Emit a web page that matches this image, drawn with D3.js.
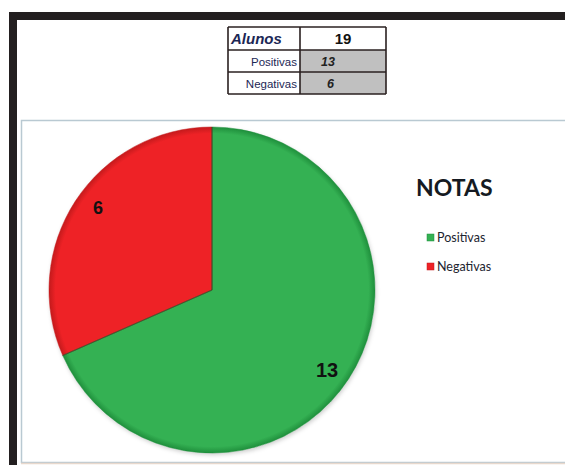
<!DOCTYPE html>
<html><head><meta charset="utf-8">
<script src="https://cdn.jsdelivr.net/npm/d3@7"></script>
<style>html,body{margin:0;padding:0;background:#fff;}svg{display:block;}</style>
</head><body>
<script>
const categories = ["Positivas", "Negativas"];
const values = [13, 6];
const total = 19;
const colors = ["#34b153", "#ee2226"];
const edgeColors = ["#1f8f3c", "#c41a1c"];
const chartTitle = "NOTAS";
const tableHeader = "Alunos";

const W = 565, H = 465;
const svg = d3.select("body").append("svg").attr("width", W).attr("height", H);
const defs = svg.append("defs");

// frame
svg.append("rect").attr("x", 0).attr("y", 0).attr("width", W).attr("height", H).attr("fill", "#fff");
svg.append("rect").attr("x", 9).attr("y", 12).attr("width", W - 9).attr("height", 8).attr("fill", "#231f20");
svg.append("rect").attr("x", 9).attr("y", 12).attr("width", 8).attr("height", H - 12).attr("fill", "#231f20");

// chart area box
svg.append("rect").attr("x", 21.5).attr("y", 120.5).attr("width", W - 20).attr("height", 342)
  .attr("fill", "#fff").attr("stroke", "#b9c9d2").attr("stroke-width", 1.5);
svg.append("line").attr("x1", 21).attr("x2", W).attr("y1", 463.5).attr("y2", 463.5).attr("stroke", "#e8d8cc").attr("stroke-width", 1.5);

// table
const tx = 228, colX = 300, tr = 386;
const rowsY = [27, 50, 72, 94];
const tg = svg.append("g");
tg.append("rect").attr("x", colX).attr("y", rowsY[1]).attr("width", tr - colX).attr("height", rowsY[3] - rowsY[1]).attr("fill", "#c0c0c0");
const lineC = "#2a2020";
rowsY.forEach(y => tg.append("line").attr("x1", tx).attr("x2", tr).attr("y1", y).attr("y2", y).attr("stroke", lineC).attr("stroke-width", 1.6));
[tx, colX, tr].forEach(x => tg.append("line").attr("x1", x).attr("x2", x).attr("y1", rowsY[0]).attr("y2", rowsY[3]).attr("stroke", lineC).attr("stroke-width", 1.6));
tg.append("text").attr("x", tx + 3).attr("y", 43.5).text(tableHeader)
  .attr("font-family", "Liberation Sans, Arial, sans-serif").attr("font-size", 15).attr("font-weight", "bold").attr("font-style", "italic").attr("fill", "#1c2755");
tg.append("text").attr("x", (colX + tr) / 2).attr("y", 44).attr("text-anchor", "middle").text(total)
  .attr("font-family", "Liberation Sans, Arial, sans-serif").attr("font-size", 15).attr("font-weight", "bold").attr("fill", "#111");
categories.forEach((c, i) => {
  const yb = rowsY[i + 1] + 15.5;
  tg.append("text").attr("x", colX - 3).attr("y", yb).attr("text-anchor", "end").text(c)
    .attr("font-family", "Liberation Sans, Arial, sans-serif").attr("font-size", 11.5).attr("fill", "#1c2755");
  tg.append("text").attr("x", i === 0 ? 321 : 327).attr("y", yb).text(values[i])
    .attr("font-family", "Liberation Sans, Arial, sans-serif").attr("font-size", 12.5).attr("font-weight", "bold").attr("font-style", "italic").attr("fill", "#222");
});

// pie
const cx = 212, cy = 290, r = 163;
colors.forEach((c, i) => {
  const g = defs.append("radialGradient").attr("id", "grad" + i).attr("gradientUnits", "userSpaceOnUse")
    .attr("cx", 0).attr("cy", 0).attr("r", r);
  g.append("stop").attr("offset", "0%").attr("stop-color", c);
  g.append("stop").attr("offset", "96%").attr("stop-color", c);
  g.append("stop").attr("offset", "100%").attr("stop-color", edgeColors[i]);
});
const f = defs.append("filter").attr("id", "sh").attr("x", "-10%").attr("y", "-10%").attr("width", "120%").attr("height", "120%");
f.append("feDropShadow").attr("dx", 1).attr("dy", 2).attr("stdDeviation", 2).attr("flood-color", "#000").attr("flood-opacity", 0.2);

const pie = d3.pie().sort(null).value(d => d)(values);
const arc = d3.arc().innerRadius(0).outerRadius(r);
const pg = svg.append("g").attr("transform", `translate(${cx},${cy})`);
pg.append("circle").attr("r", r).attr("fill", "#fff").attr("filter", "url(#sh)");
pg.selectAll("path.slice").data(pie).join("path").attr("class", "slice")
  .attr("d", arc).attr("fill", (d, i) => `url(#grad${i})`)
  .attr("stroke", (d, i) => edgeColors[i]).attr("stroke-width", 0.5);
// slice separators
pg.selectAll("line.sep").data(pie).join("line").attr("class", "sep")
  .attr("x1", 0).attr("y1", 0)
  .attr("x2", d => r * Math.sin(d.startAngle)).attr("y2", d => -r * Math.cos(d.startAngle))
  .attr("stroke", "#1d5a2c").attr("stroke-width", 1.2).attr("opacity", 0.7);

// labels (offsets from pie centre)
const labelPos = [[115, 80], [-114, -82]];
const labelSize = [20, 18];
pie.forEach((d, i) => {
  pg.append("text").attr("x", labelPos[i][0]).attr("y", labelPos[i][1]).attr("dy", "0.35em")
    .attr("text-anchor", "middle").text(values[i])
    .attr("font-family", "Liberation Sans, Arial, sans-serif").attr("font-size", labelSize[i]).attr("font-weight", "bold").attr("fill", "#111");
});

// legend
svg.append("text").attr("x", 416).attr("y", 196).text(chartTitle)
  .attr("font-family", "Lato, 'Open Sans', sans-serif").attr("font-size", 23).attr("font-weight", "bold").attr("fill", "#151a22");
categories.forEach((c, i) => {
  const y = 238 + i * 29;
  svg.append("rect").attr("x", 427).attr("y", y - 4).attr("width", 7).attr("height", 7).attr("fill", colors[i]).attr("stroke", edgeColors[i]).attr("stroke-width", 0.5);
  svg.append("text").attr("x", 437).attr("y", y + 3.5).text(c)
    .attr("font-family", "Lato, 'Open Sans', sans-serif").attr("font-size", 12.5).attr("fill", "#1c2430");
});
</script>
</body></html>
